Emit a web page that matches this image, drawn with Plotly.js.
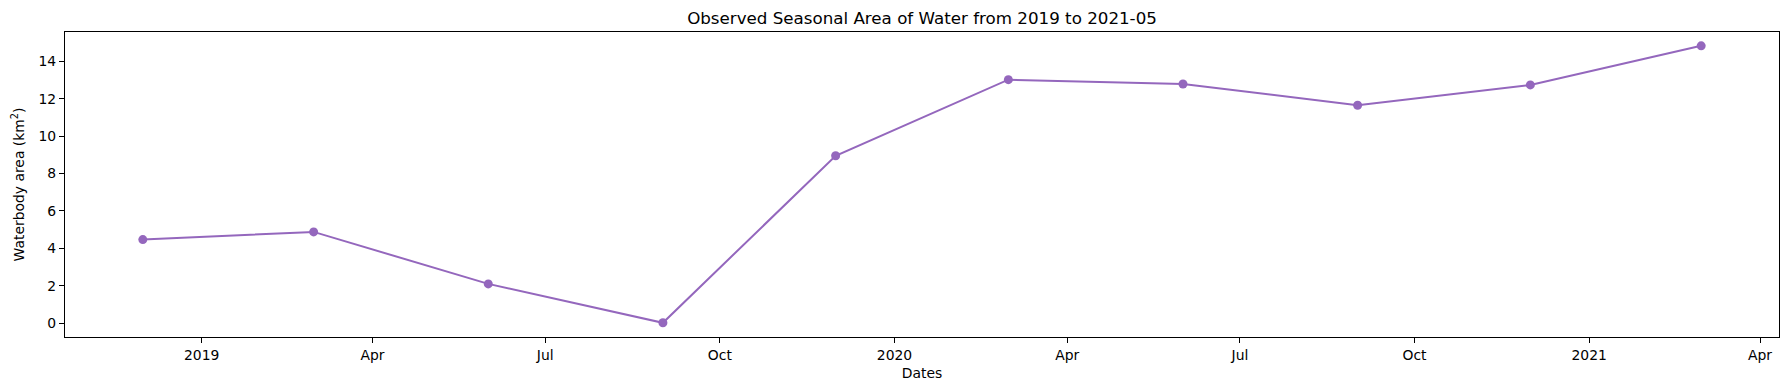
<!DOCTYPE html>
<html>
<head>
<meta charset="utf-8">
<script src="https://cdn.plot.ly/plotly-3.0.1.min.js"></script>
<style>html,body{margin:0;padding:0;background:#fff;}#chart{width:1790px;height:390px;}</style>
</head>
<body>
<div id="chart"></div>
<script>
const dates = ['2018-12-01','2019-03-01','2019-06-01','2019-09-01','2019-12-01','2020-03-01','2020-06-01','2020-09-01','2020-12-01','2021-03-01'];
const areas = [4.47, 4.88, 2.10, 0.02, 8.95, 13.02, 12.79, 11.65, 12.74, 14.83];
const xTickVals = ['2019-01-01','2019-04-01','2019-07-01','2019-10-01','2020-01-01','2020-04-01','2020-07-01','2020-10-01','2021-01-01','2021-04-01'];
const xTickText = ['2019','Apr','Jul','Oct','2020','Apr','Jul','Oct','2021','Apr'];
const yTickVals = [0, 2, 4, 6, 8, 10, 12, 14];
const titleText = 'Observed Seasonal Area of Water from 2019 to 2021-05';
const xTitle = 'Dates';
const yTitle = 'Waterbody area (km<sup>2</sup>)';

const trace = {
  x: dates, y: areas, type: 'scatter', mode: 'lines+markers',
  line: {color: '#9467bd', width: 2},
  marker: {color: '#9467bd', size: 9},
  hoverinfo: 'x+y'
};
const font = {family: 'DejaVu Sans, sans-serif', size: 13.9, color: '#000'};
const layout = {
  width: 1790, height: 390,
  margin: {l: 65, r: 11, t: 32, b: 53, pad: 0},
  paper_bgcolor: '#fff', plot_bgcolor: '#fff',
  font: font,
  showlegend: false,
  title: {text: titleText, font: {family: 'DejaVu Sans, sans-serif', size: 16.7, color: '#000'},
          x: 0.5, xref: 'paper', y: 1, yref: 'container', yanchor: 'top', pad: {t: 12}},
  xaxis: {
    type: 'date', range: ['2018-10-21', '2021-04-11'],
    tickmode: 'array', tickvals: xTickVals, ticktext: xTickText,
    ticks: 'outside', ticklen: 5, tickwidth: 1, tickcolor: '#000',
    showline: true, mirror: true, linecolor: '#000', linewidth: 1.1,
    showgrid: false, zeroline: false,
    tickfont: font,
    title: {text: xTitle, font: font, standoff: 6}
  },
  yaxis: {
    range: [-0.74, 15.57],
    tickmode: 'array', tickvals: yTickVals,
    ticks: 'outside', ticklen: 5, tickwidth: 1, tickcolor: '#000',
    showline: true, mirror: true, linecolor: '#000', linewidth: 1.1,
    showgrid: false, zeroline: false,
    tickfont: font,
    title: {text: yTitle, font: font, standoff: 10}
  }
};
Plotly.newPlot('chart', [trace], layout, {displayModeBar: false, staticPlot: true});
</script>
</body>
</html>
